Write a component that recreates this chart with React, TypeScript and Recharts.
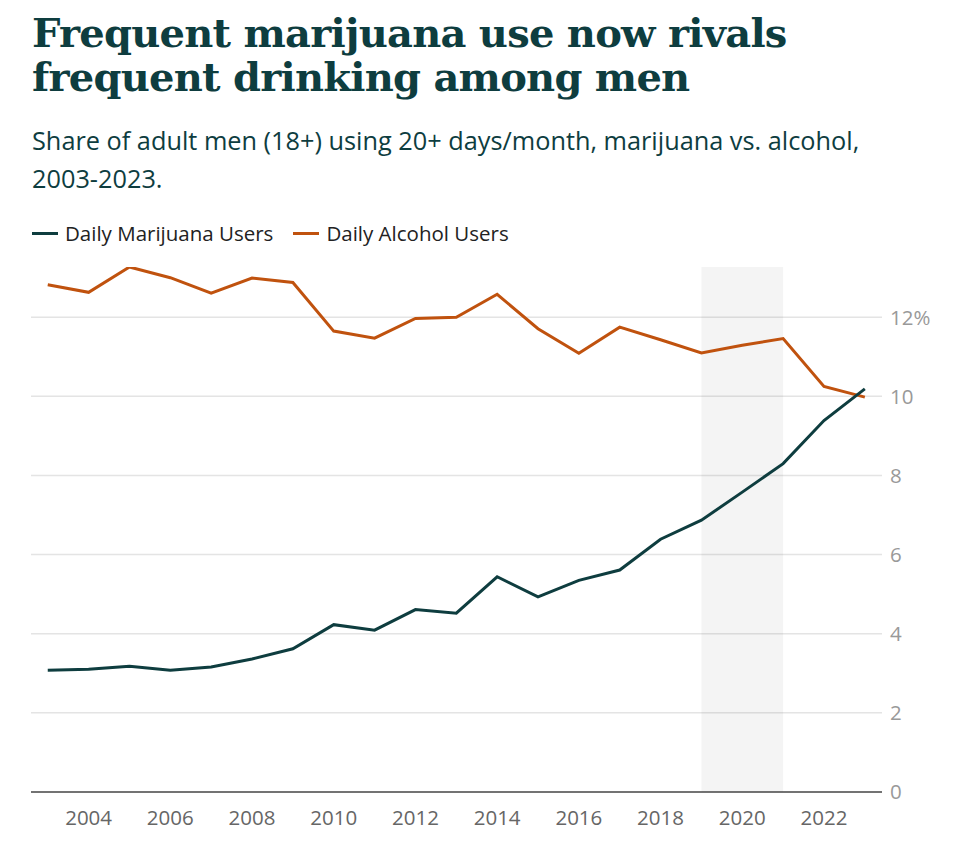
import React from "react";
import {
  LineChart,
  Line,
  XAxis,
  YAxis,
  CartesianGrid,
  ReferenceArea,
} from "recharts";

const years = [
  2003, 2004, 2005, 2006, 2007, 2008, 2009, 2010, 2011, 2012, 2013, 2014,
  2015, 2016, 2017, 2018, 2019, 2020, 2021, 2022, 2023,
];
const marijuana = [
  3.08, 3.1, 3.18, 3.08, 3.16, 3.36, 3.62, 4.23, 4.09, 4.61, 4.52, 5.44, 4.93,
  5.35, 5.61, 6.39, 6.87, 7.58, 8.3, 9.39, 10.19,
];
const alcohol = [
  12.82, 12.63, 13.27, 13.0, 12.61, 12.99, 12.88, 11.65, 11.47, 11.97, 12.0,
  12.58, 11.71, 11.09, 11.75, 11.43, 11.1, 11.29, 11.46, 10.25, 9.98,
];
const xTicks = [2004, 2006, 2008, 2010, 2012, 2014, 2016, 2018, 2020, 2022];
const yTicks = [0, 2, 4, 6, 8, 10, 12];
const gridValues = [2, 4, 6, 8, 10, 12];
const shadeStart = 2019;
const shadeEnd = 2021;

const seriesNames = ["Daily Marijuana Users", "Daily Alcohol Users"];

const TEAL = "#0e3d3f";
const ORANGE = "#c0520e";
const SANS = "'Open Sans', 'Noto Sans', sans-serif";

const data = years.map((y, i) => ({
  year: y,
  marijuana: marijuana[i],
  alcohol: alcohol[i],
}));

export default function App() {
  return (
    <div
      style={{
        position: "relative",
        width: 962,
        height: 852,
        background: "#fff",
        overflow: "hidden",
      }}
    >
      <style>{`body{margin:0;}`}</style>
      <div
        style={{
          position: "absolute",
          left: 32,
          top: 11,
          fontFamily: "'DejaVu Serif', serif",
          fontWeight: 700,
          fontSize: 40,
          lineHeight: "44px",
          color: TEAL,
          letterSpacing: -0.75,
          whiteSpace: "nowrap",
        }}
      >
        <div>Frequent marijuana use now rivals</div>
        <div>frequent drinking among men</div>
      </div>
      <div
        style={{
          position: "absolute",
          left: 32,
          top: 121,
          fontFamily: SANS,
          fontSize: 25.3,
          lineHeight: "38px",
          color: TEAL,
          whiteSpace: "nowrap",
        }}
      >
        <div>Share of adult men (18+) using 20+ days/month, marijuana vs. alcohol,</div>
        <div>2003-2023.</div>
      </div>
      <div
        style={{
          position: "absolute",
          left: 32,
          top: 221,
          fontFamily: SANS,
          fontSize: 20.5,
          lineHeight: "24px",
          color: "#222",
          display: "flex",
          alignItems: "center",
          whiteSpace: "nowrap",
        }}
      >
        {seriesNames.map((n, i) => (
          <div
            key={n}
            style={{ display: "flex", alignItems: "center", marginRight: 20 }}
          >
            <span
              style={{
                display: "inline-block",
                width: 26,
                height: 3,
                background: i === 0 ? TEAL : ORANGE,
                marginRight: 7,
              }}
            />
            <span>{n}</span>
          </div>
        ))}
      </div>
      <div style={{ position: "absolute", left: 0, top: 0 }}>
        <LineChart
          width={962}
          height={852}
          data={data}
          margin={{ top: 267, left: 31, right: 0, bottom: 0 }}
        >
          <CartesianGrid
            vertical={false}
            stroke="#e4e4e4"
            strokeWidth={1.5}
            horizontalValues={gridValues}
          />
          <ReferenceArea
            x1={shadeStart}
            x2={shadeEnd}
            fill="#000"
            fillOpacity={0.045}
            stroke="none"
          />
          <XAxis
            dataKey="year"
            type="number"
            domain={[2002.59, 2023.42]}
            ticks={xTicks}
            tickLine={false}
            axisLine={{ stroke: "#444", strokeWidth: 1.6 }}
            tick={{ fill: "#666", fontSize: 20.5, fontFamily: SANS }}
            tickMargin={12}
            height={60}
            allowDataOverflow
          />
          <YAxis
            orientation="right"
            domain={[0, 13.27]}
            ticks={yTicks}
            tickLine={false}
            axisLine={false}
            width={80}
            tick={{ fill: "#999", fontSize: 20.5, fontFamily: SANS, textAnchor: "start" }}
            tickFormatter={(v: number) => (v === 12 ? "12%" : String(v))}
            allowDataOverflow
          />
          <Line
            type="linear"
            dataKey="alcohol"
            name={seriesNames[1]}
            stroke={ORANGE}
            strokeWidth={3}
            dot={false}
            isAnimationActive={false}
          />
          <Line
            type="linear"
            dataKey="marijuana"
            name={seriesNames[0]}
            stroke={TEAL}
            strokeWidth={3}
            dot={false}
            isAnimationActive={false}
          />
        </LineChart>
      </div>
    </div>
  );
}
